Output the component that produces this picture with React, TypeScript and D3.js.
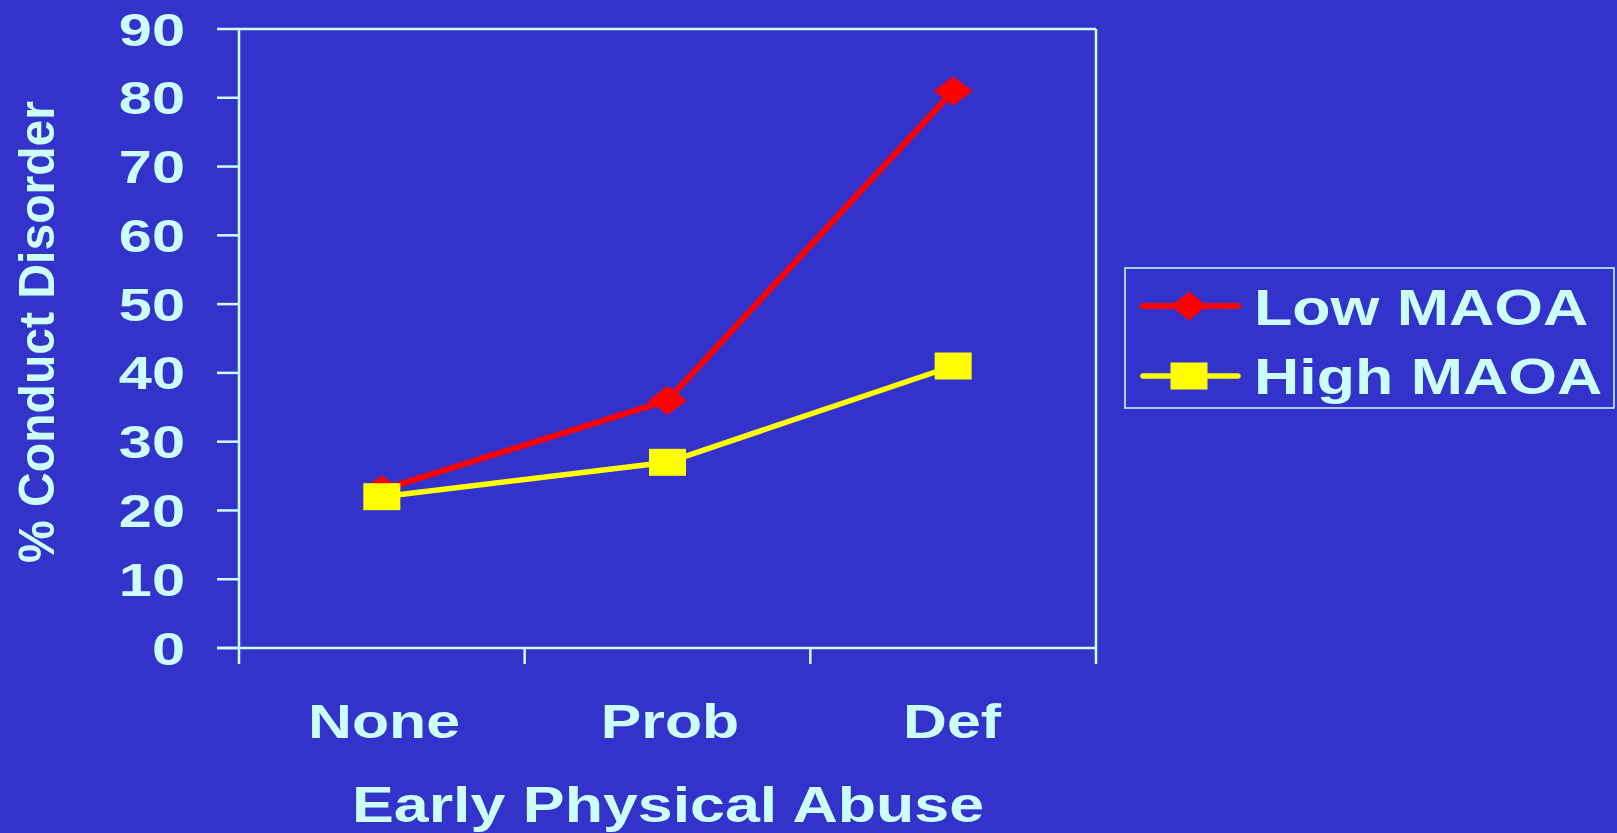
import React from "react";
import * as d3 from "d3";

const categories = ["None", "Prob", "Def"];
const lowMAOA = [23, 36, 81];
const highMAOA = [22, 27, 41];
const yTicks = [0, 10, 20, 30, 40, 50, 60, 70, 80, 90];
const seriesNames = ["Low MAOA", "High MAOA"];

const W = 1617;
const H = 833;
const BG = "#3333cc";
const FG = "#ccffff";
const FONT = "'Liberation Sans', Arial, Helvetica, sans-serif";
const SX = 1.28;

export default function App() {
  const x = d3.scaleBand<string>().domain(categories).range([239, 1096]);
  const y = d3.scaleLinear().domain([0, 90]).range([648, 29]);
  const cx = (c: string) => (x(c) as number) + x.bandwidth() / 2;
  const line = d3
    .line<number>()
    .x((_, i) => cx(categories[i]))
    .y((d) => y(d));

  const diamond = (px: number, py: number, hw: number, hh: number) =>
    `M${px - hw},${py} L${px},${py - hh} L${px + hw},${py} L${px},${py + hh} Z`;

  const stretchedText = (
    txt: string,
    tx: number,
    ty: number,
    size: number,
    anchor: "start" | "middle" | "end",
    key?: string
  ) => (
    <text
      key={key}
      transform={`translate(${tx},${ty}) scale(${SX},1)`}
      textAnchor={anchor}
      fontFamily={FONT}
      fontWeight="bold"
      fontSize={size}
      fill={FG}
    >
      {txt}
    </text>
  );

  const x0 = 239, x1 = 1096, yTop = 29, yBot = 648;

  return (
    <svg
      width={W}
      height={H}
      style={{ position: "absolute", left: 0, top: 0, display: "block" }}
    >
      <rect x={0} y={0} width={W} height={H} fill={BG} />

      {/* plot frame */}
      <g stroke={FG} strokeWidth={2.5} fill="none">
        <line x1={x0} y1={yTop} x2={x1} y2={yTop} />
        <line x1={x1} y1={yTop} x2={x1} y2={664} />
        <line x1={x0} y1={yTop} x2={x0} y2={664} />
        <line x1={217} y1={yBot} x2={x1} y2={yBot} />
        {yTicks.map((t) => (
          <line key={"yt" + t} x1={217} y1={y(t)} x2={x0} y2={y(t)} />
        ))}
        {categories.slice(1).map((c) => (
          <line
            key={"xt" + c}
            x1={x(c) as number}
            y1={yBot}
            x2={x(c) as number}
            y2={664}
          />
        ))}
      </g>

      {/* y tick labels */}
      {yTicks.map((t) => stretchedText(String(t), 185, y(t) + 16.5, 46.5, "end", "yl" + t))}

      {/* x tick labels */}
      {categories.map((c, i) =>
        stretchedText(c, [384, 670, 952][i] ?? cx(c), 738, 47.5, "middle", "xl" + c)
      )}

      {/* x title */}
      {stretchedText("Early Physical Abuse", 668, 822, 49, "middle")}

      {/* y title */}
      <text
        transform={`translate(54,332) rotate(-90)`}
        textAnchor="middle"
        fontFamily={FONT}
        fontWeight="bold"
        fontSize={50}
        fill={FG}
        textLength={462}
        lengthAdjust="spacingAndGlyphs"
      >
        % Conduct Disorder
      </text>

      {/* Low MAOA */}
      <path d={line(lowMAOA) as string} stroke="#ff0000" strokeWidth={6} fill="none" />
      {lowMAOA.map((v, i) => (
        <path key={"lm" + i} d={diamond(cx(categories[i]), y(v), 19.5, 14.5)} fill="#ff0000" />
      ))}

      {/* High MAOA */}
      <path d={line(highMAOA) as string} stroke="#ffff00" strokeWidth={5.5} fill="none" />
      {highMAOA.map((v, i) => (
        <rect
          key={"hm" + i}
          x={cx(categories[i]) - 18.5}
          y={y(v) - 13.5}
          width={37}
          height={27}
          fill="#ffff00"
        />
      ))}

      {/* legend */}
      <rect x={1125} y={268} width={489} height={140} fill="none" stroke={FG} strokeWidth={1.5} />
      <line x1={1143} y1={306} x2={1238} y2={306} stroke="#ff0000" strokeWidth={6} strokeLinecap="round" />
      <path d={diamond(1189, 306, 18, 14.5)} fill="#ff0000" />
      <line x1={1143} y1={376} x2={1238} y2={376} stroke="#ffff00" strokeWidth={5.5} strokeLinecap="round" />
      <rect x={1189 - 18.5} y={376 - 13.5} width={37} height={27} fill="#ffff00" />
      {stretchedText(seriesNames[0], 1254, 325, 49, "start")}
      {stretchedText(seriesNames[1], 1254, 394, 49, "start")}
    </svg>
  );
}
